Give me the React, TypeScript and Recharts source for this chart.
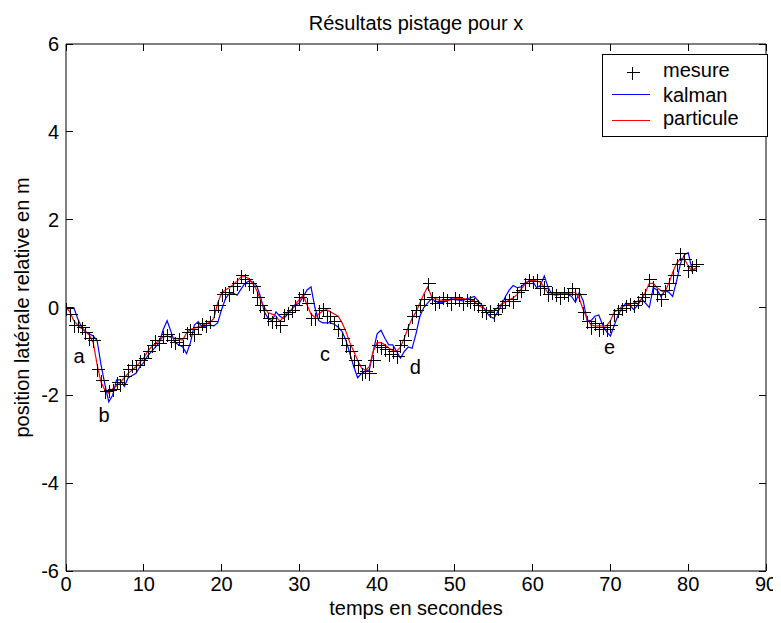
import React from 'react';
import { ComposedChart, Line, XAxis, YAxis, ReferenceDot } from 'recharts';

// temps (s), pas de 0.5 s
const time = [
  0, 0.5, 1, 1.5, 2, 2.5, 3, 3.5, 4, 4.5,
  5, 5.5, 6, 6.5, 7, 7.5, 8, 8.5, 9, 9.5,
  10, 10.5, 11, 11.5, 12, 12.5, 13, 13.5, 14, 14.5,
  15, 15.5, 16, 16.5, 17, 17.5, 18, 18.5, 19, 19.5,
  20, 20.5, 21, 21.5, 22, 22.5, 23, 23.5, 24, 24.5,
  25, 25.5, 26, 26.5, 27, 27.5, 28, 28.5, 29, 29.5,
  30, 30.5, 31, 31.5, 32, 32.5, 33, 33.5, 34, 34.5,
  35, 35.5, 36, 36.5, 37, 37.5, 38, 38.5, 39, 39.5,
  40, 40.5, 41, 41.5, 42, 42.5, 43, 43.5, 44, 44.5,
  45, 45.5, 46, 46.5, 47, 47.5, 48, 48.5, 49, 49.5,
  50, 50.5, 51, 51.5, 52, 52.5, 53, 53.5, 54, 54.5,
  55, 55.5, 56, 56.5, 57, 57.5, 58, 58.5, 59, 59.5,
  60, 60.5, 61, 61.5, 62, 62.5, 63, 63.5, 64, 64.5,
  65, 65.5, 66, 66.5, 67, 67.5, 68, 68.5, 69, 69.5,
  70, 70.5, 71, 71.5, 72, 72.5, 73, 73.5, 74, 74.5,
  75, 75.5, 76, 76.5, 77, 77.5, 78, 78.5, 79, 79.5,
  80, 80.5, 81,
];

const mesure = [
  0.0, -0.15, -0.4, -0.4, -0.45, -0.55, -0.7, -0.75, -1.4, -1.65,
  -1.9, -1.88, -1.85, -1.7, -1.75, -1.55, -1.4, -1.3, -1.3, -1.2,
  -1.15, -1.0, -0.85, -0.75, -0.8, -0.65, -0.6, -0.75, -0.78, -0.7,
  -0.85, -0.55, -0.5, -0.6, -0.45, -0.35, -0.4, -0.3, -0.05, 0.05,
  0.3, 0.35, 0.3, 0.5, 0.55, 0.75, 0.65, 0.55, 0.5, 0.25,
  0.05, -0.05, -0.25, -0.3, -0.3, -0.4, -0.15, -0.1, -0.05, 0.05,
  0.25, 0.3, 0.1, -0.25, -0.25, -0.05, 0.0, -0.2, -0.2, -0.3,
  -0.5, -0.7, -0.85, -1.0, -1.2, -1.3, -1.5, -1.45, -1.5, -1.2,
  -0.85, -0.9, -0.95, -1.05, -1.0, -1.1, -0.85, -0.75, -0.5, -0.2,
  -0.05, 0.05, 0.2, 0.55, 0.25, 0.1, 0.15, 0.25, 0.2, 0.1,
  0.25, 0.2, 0.1, 0.2, 0.15, 0.1, 0.05, -0.05, -0.1, -0.05,
  -0.15, 0.0, 0.05, 0.15, 0.2, 0.15, 0.35, 0.4, 0.55, 0.65,
  0.6, 0.65, 0.45, 0.5, 0.3, 0.35, 0.3, 0.25, 0.35, 0.3,
  0.45, 0.3, 0.3, -0.1, -0.3, -0.45, -0.35, -0.5, -0.45, -0.5,
  -0.4, -0.15, -0.05, 0.0, 0.05, 0.1, 0.05, 0.15, 0.25, 0.3,
  0.65, 0.5, 0.3, 0.2, 0.4, 0.55, 0.75, 1.0, 1.25, 1.1,
  0.85, 0.95, 1.0,
];

const kalman = [
  0, 0, 0, -0.25, -0.45, -0.55, -0.6, -0.65, -0.75, -1.3,
  -1.75, -2.15, -2.0, -1.65, -1.65, -1.8, -1.6, -1.55, -1.5, -1.35,
  -1.25, -1.1, -1.0, -0.9, -0.8, -0.5, -0.3, -0.55, -0.8, -0.85,
  -0.9, -1.05, -0.8, -0.4, -0.32, -0.45, -0.42, -0.4, -0.42, -0.35,
  -0.05, 0.2, 0.32, 0.33, 0.28, 0.42, 0.55, 0.6, 0.58, 0.5,
  0.25, -0.1, -0.25, -0.3, -0.1, -0.2, -0.25, -0.15, -0.05, 0.05,
  0.1, 0.25, 0.4, 0.47, 0.0, -0.3, -0.35, -0.35, -0.35, -0.38,
  -0.45, -0.55, -0.75, -1.05, -1.35, -1.6, -1.5, -1.45, -1.42, -1.0,
  -0.6, -0.52, -0.7, -0.85, -0.85, -1.0, -1.15, -1.0, -0.9, -0.93,
  -0.6, -0.2, 0.0, 0.1, 0.2, 0.15, 0.1, 0.12, 0.15, 0.2,
  0.18, 0.17, 0.15, 0.2, 0.22, 0.25, 0.15, 0.05, -0.1, -0.2,
  -0.25, -0.1, 0.05, 0.25, 0.4, 0.5, 0.45, 0.47, 0.55, 0.6,
  0.6, 0.45, 0.5, 0.72, 0.45, 0.3, 0.28, 0.3, 0.32, 0.3,
  0.25, 0.12, 0.35, 0.15, -0.3, -0.3, -0.2, -0.17, -0.4, -0.55,
  -0.65, -0.4, -0.17, 0.0, 0.1, 0.05, -0.05, 0.05, 0.2, 0.1,
  0.0, 0.45, 0.4, 0.25, 0.38, 0.35, 0.25, 0.6, 1.0, 1.2,
  1.25, 0.85, 0.9,
];

const particule = [
  0, -0.1, -0.3, -0.4, -0.48, -0.55, -0.63, -0.8, -1.3, -1.7,
  -1.88, -1.95, -1.85, -1.78, -1.7, -1.6, -1.5, -1.42, -1.35, -1.25,
  -1.15, -1.0, -0.9, -0.82, -0.75, -0.67, -0.65, -0.68, -0.7, -0.72,
  -0.74, -0.58, -0.5, -0.47, -0.44, -0.4, -0.37, -0.34, -0.25, 0.1,
  0.33, 0.4, 0.45, 0.52, 0.6, 0.7, 0.7, 0.66, 0.55, 0.4,
  0.18, 0.0, -0.12, -0.15, -0.2, -0.32, -0.2, -0.1, -0.05, 0.08,
  0.18, 0.28, 0.05, -0.15, -0.22, -0.15, -0.08, -0.05, -0.1, -0.15,
  -0.2, -0.35, -0.55, -0.8, -1.0, -1.2, -1.38, -1.43, -1.35, -1.0,
  -0.8, -0.8, -0.85, -0.92, -0.98, -1.0, -0.9, -0.7, -0.45, -0.25,
  -0.1, 0.1, 0.3, 0.47, 0.25, 0.2, 0.17, 0.17, 0.16, 0.17,
  0.2, 0.2, 0.2, 0.19, 0.18, 0.15, 0.05, 0.0, -0.05, -0.1,
  -0.08, 0.0, 0.08, 0.12, 0.17, 0.22, 0.3, 0.42, 0.52, 0.6,
  0.63, 0.6, 0.58, 0.45, 0.33, 0.33, 0.32, 0.32, 0.32, 0.32,
  0.33, 0.35, 0.2, -0.05, -0.25, -0.4, -0.42, -0.42, -0.42, -0.42,
  -0.3, -0.1, -0.05, 0.02, 0.05, 0.08, 0.1, 0.14, 0.18, 0.35,
  0.55, 0.55, 0.45, 0.38, 0.35, 0.55, 0.8, 1.0, 1.12, 1.1,
  0.95, 0.82, 0.9,
];

const xTicks = [0, 10, 20, 30, 40, 50, 60, 70, 80, 90];
const yTicks = [-6, -4, -2, 0, 2, 4, 6];

// lettres posées sur la courbe
const noteText = ['a', 'b', 'c', 'd', 'e'];
const noteT = [1.67, 4.88, 33.3, 44.9, 69.9];
const noteY = [-1.1, -2.45, -1.06, -1.35, -0.9];

const FONT = "'Liberation Sans', Arial, Helvetica, sans-serif";
const FS = 20;
const TICK = 7;

const rows = time.map((t, i) => ({
  t,
  mesure: mesure[i],
  kalman: kalman[i],
  particule: particule[i],
}));

const BottomTick = (p: any) => (
  <g>
    <line x1={p.x} y1={p.y} x2={p.x} y2={p.y - TICK} stroke="#000" shapeRendering="crispEdges" />
    <text x={p.x} y={p.y + 20} textAnchor="middle" fontFamily={FONT} fontSize={FS} fill="#000">
      {p.payload.value}
    </text>
  </g>
);

const TopTick = (p: any) => (
  <line x1={p.x} y1={p.y} x2={p.x} y2={p.y + TICK} stroke="#000" shapeRendering="crispEdges" />
);

const LeftTick = (p: any) => (
  <g>
    <line x1={p.x} y1={p.y} x2={p.x + TICK} y2={p.y} stroke="#000" shapeRendering="crispEdges" />
    <text x={p.x - 7} y={p.y + 7} textAnchor="end" fontFamily={FONT} fontSize={FS} fill="#000">
      {p.payload.value}
    </text>
  </g>
);

const RightTick = (p: any) => (
  <line x1={p.x} y1={p.y} x2={p.x - TICK} y2={p.y} stroke="#000" shapeRendering="crispEdges" />
);

const PlusDot = (p: any) => {
  const { cx, cy, index } = p;
  if (cx == null || cy == null) return <g key={index} />;
  const x = Math.round(cx) + 0.5;
  const y = Math.round(cy) + 0.5;
  return (
    <path
      key={index}
      d={`M${x - 6},${y}H${x + 7}M${x},${y - 6}V${y + 7}`}
      stroke="#000"
      strokeWidth={1}
      fill="none"
      shapeRendering="crispEdges"
    />
  );
};

function LegendBox() {
  return (
    <svg
      width={166}
      height={83}
      style={{ position: 'absolute', left: 594, top: 46 }}
      fontFamily={FONT}
      fontSize={FS}
    >
      <rect x={0.5} y={0.5} width={165} height={82} fill="#fff" stroke="#000" shapeRendering="crispEdges" />
      <path d="M24.5,18.5H37.5M30.5,12.5V25.5" stroke="#000" fill="none" shapeRendering="crispEdges" />
      <text x={61} y={23} fill="#000">mesure</text>
      <line x1={10} y1={40.5} x2={48} y2={40.5} stroke="#0000ff" />
      <text x={61} y={48} fill="#000">kalman</text>
      <line x1={10} y1={66.5} x2={48} y2={66.5} stroke="#ff0000" />
      <text x={61} y={71} fill="#000">particule</text>
    </svg>
  );
}

export default function App() {
  return (
    <div style={{ position: 'relative', width: 773, height: 615, background: '#fff' }}>
      <ComposedChart
        width={773}
        height={615}
        data={rows}
        margin={{ top: 0, right: 0, bottom: 0, left: 0 }}
        style={{ fontFamily: FONT }}
      >
        <XAxis
          xAxisId="bottom"
          dataKey="t"
          type="number"
          domain={[0, 90]}
          ticks={xTicks}
          interval={0}
          height={52}
          tickSize={0}
          tickMargin={0}
          tick={BottomTick}
          stroke="#000"
          allowDataOverflow
          label={{ value: 'temps en secondes', position: 'insideBottom', offset: 8, fill: '#000', fontSize: FS, fontFamily: FONT }}
        />
        <XAxis
          xAxisId="top"
          orientation="top"
          dataKey="t"
          type="number"
          domain={[0, 90]}
          ticks={xTicks}
          interval={0}
          height={36}
          tickSize={0}
          tickMargin={0}
          tick={TopTick}
          stroke="#000"
          allowDataOverflow
          label={{ value: 'Résultats pistage pour x', position: 'center', dy: -3, fill: '#000', fontSize: FS, fontFamily: FONT }}
        />
        <YAxis
          yAxisId="left"
          type="number"
          domain={[-6, 6]}
          ticks={yTicks}
          interval={0}
          width={58}
          tickSize={0}
          tickMargin={0}
          tick={LeftTick}
          stroke="#000"
          allowDataOverflow
          label={{ value: 'position latérale relative en m', angle: -90, position: 'center', dx: -15, fill: '#000', fontSize: FS, fontFamily: FONT }}
        />
        <YAxis
          yAxisId="right"
          orientation="right"
          type="number"
          domain={[-6, 6]}
          ticks={yTicks}
          interval={0}
          width={15}
          tickSize={0}
          tickMargin={0}
          tick={RightTick}
          stroke="#000"
          allowDataOverflow
        />
        <Line
          xAxisId="bottom"
          yAxisId="left"
          dataKey="mesure"
          stroke="none"
          dot={PlusDot}
          activeDot={false}
          isAnimationActive={false}
        />
        <Line
          xAxisId="bottom"
          yAxisId="left"
          type="linear"
          dataKey="kalman"
          stroke="#0000ff"
          strokeWidth={1.2}
          dot={false}
          activeDot={false}
          isAnimationActive={false}
        />
        <Line
          xAxisId="bottom"
          yAxisId="left"
          type="linear"
          dataKey="particule"
          stroke="#ff0000"
          strokeWidth={1.2}
          dot={false}
          activeDot={false}
          isAnimationActive={false}
        />
        {noteText.map((s, i) => (
          <ReferenceDot
            key={s}
            xAxisId="bottom"
            yAxisId="left"
            x={noteT[i]}
            y={noteY[i]}
            r={0}
            fill="none"
            stroke="none"
            label={{ value: s, position: 'center', fill: '#000', fontSize: FS, fontFamily: FONT }}
          />
        ))}
      </ComposedChart>
      <LegendBox />
    </div>
  );
}
